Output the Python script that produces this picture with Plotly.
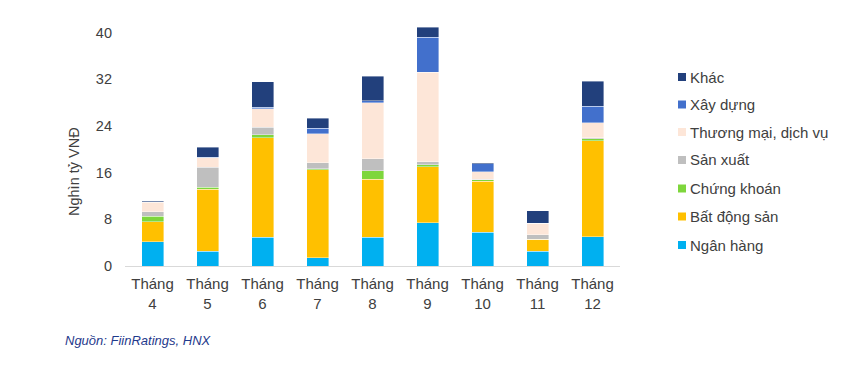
import plotly.graph_objects as go

months = ["Tháng<br>4", "Tháng<br>5", "Tháng<br>6", "Tháng<br>7", "Tháng<br>8",
          "Tháng<br>9", "Tháng<br>10", "Tháng<br>11", "Tháng<br>12"]

ngan_hang = [4.2, 2.5, 4.9, 1.4, 4.9, 7.4, 5.8, 2.5, 5.0]
bat_dong_san = [3.4, 10.7, 17.1, 15.1, 10.0, 9.6, 8.7, 2.1, 16.5]
chung_khoan = [0.9, 0.3, 0.5, 0.2, 1.4, 0.4, 0.3, 0.0, 0.35]
san_xuat = [0.8, 3.4, 1.25, 1.0, 2.1, 0.5, 0.1, 0.8, 0.1]
thuong_mai = [1.6, 1.7, 3.25, 5.0, 9.6, 15.3, 1.3, 1.9, 2.6]
xay_dung = [0.15, 0.05, 0.25, 0.9, 0.3, 6.0, 1.3, 0.0, 2.8]
khac = [0.1, 1.7, 4.3, 1.7, 4.2, 1.7, 0.2, 2.2, 4.3]

series = [
    ("Ngân hàng", ngan_hang, "#00B0F0"),
    ("Bất động sản", bat_dong_san, "#FFC000"),
    ("Chứng khoán", chung_khoan, "#7ED63C"),
    ("Sản xuất", san_xuat, "#BFBFBF"),
    ("Thương mại, dịch vụ", thuong_mai, "#FDE6D8"),
    ("Xây dựng", xay_dung, "#4270CC"),
    ("Khác", khac, "#22407C"),
]

yticks = [0, 8, 16, 24, 32, 40]

FONT = "Liberation Sans, Arial, sans-serif"
TXT = "#404040"

# page body has an 8px margin; work in window pixels and shift
OFF = 8
W, H = 854 - OFF, 368 - OFF
L, R, T, B = 125 - OFF, 234, 21 - OFF, 102

fig = go.Figure()
for name, vals, col in series:
    fig.add_trace(go.Bar(
        x=months, y=vals, name=name, marker_color=col,
        marker_line=dict(width=0.5, color="rgba(255,255,255,0.8)"),
        width=0.4, showlegend=False,
    ))

def px2paper_x(px):
    return (px - OFF - L) / (W - L - R)

def py2paper_y(py):
    return (H - B - (py - OFF)) / (H - T - B)

# manual legend (top to bottom: reversed stack order)
legend_rows = [77, 104.5, 132, 160, 188.5, 216.5, 245]
for (name, vals, col), yy in zip(reversed(series), legend_rows):
    fig.add_shape(type="rect", xref="paper", yref="paper",
                  x0=px2paper_x(678), x1=px2paper_x(686),
                  y0=py2paper_y(yy + 4), y1=py2paper_y(yy - 4),
                  fillcolor=col, line=dict(width=0))
    fig.add_annotation(xref="paper", yref="paper", x=px2paper_x(688), y=py2paper_y(yy),
                       text=name, showarrow=False, xanchor="left", yanchor="middle",
                       font=dict(family=FONT, size=15, color=TXT))

fig.add_annotation(xref="paper", yref="paper", x=px2paper_x(74), y=py2paper_y(172),
                   text="Nghìn tỷ VNĐ", textangle=-90, showarrow=False,
                   xanchor="center", yanchor="middle",
                   font=dict(family=FONT, size=14.5, color=TXT))

fig.add_annotation(xref="paper", yref="paper", x=px2paper_x(63), y=py2paper_y(340),
                   text="<i>Nguồn: FiinRatings, HNX</i>", showarrow=False,
                   xanchor="left", yanchor="middle",
                   font=dict(family=FONT, size=13, color="#1F3A8C"))

fig.update_layout(
    width=W, height=H, barmode="stack",
    margin=dict(l=L, r=R, t=T, b=B),
    paper_bgcolor="white", plot_bgcolor="white",
    font=dict(family=FONT, size=14.5, color=TXT),
    showlegend=False,
    xaxis=dict(showline=True, linecolor="#D9D9D9", linewidth=1, ticks="",
               ticklabelstandoff=4,
               showgrid=False, tickfont=dict(size=15, color=TXT), fixedrange=True),
    yaxis=dict(range=[0, 42], tickvals=yticks, showgrid=False, zeroline=False,
               showline=False, ticks="", ticklabelstandoff=12,
               tickfont=dict(size=14.5, color=TXT), fixedrange=True),
)

fig.write_html("out.html")
